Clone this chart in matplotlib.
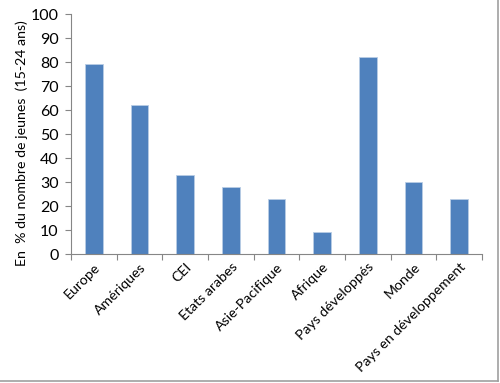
import matplotlib.pyplot as plt
import numpy as np

regions = ['Europe', 'Amériques', 'CEI', 'Etats arabes', 'Asie-Pacifique',
           'Afrique', 'Pays développés', 'Monde', 'Pays en développement']
values = [79, 62, 33, 28, 23, 9.3, 82, 30, 23]

plt.rcParams['font.family'] = ['Lato', 'DejaVu Sans']

fig = plt.figure(figsize=(5, 3.83), dpi=100)
ax = fig.add_axes([71/500, 1 - 254/383, 411/500, 240/383])

x = np.arange(len(regions))
ax.bar(x, values, width=0.38, color='#4F81BD', edgecolor='#B9CDE5', linewidth=0.6)

ax.set_xlim(-0.5, len(regions) - 0.5)
ax.set_ylim(0, 100)
ax.set_yticks(range(0, 101, 10))
ax.set_xticks(np.arange(-0.5, len(regions), 1), minor=False)
ax.set_xticklabels([])
ax.set_xticks(x, minor=True)
ax.set_xticklabels(regions, minor=True, rotation=45, ha='right', rotation_mode='anchor', fontsize=10.2)
ax.tick_params(axis='x', which='minor', length=0, pad=5)
ax.tick_params(axis='x', which='major', length=4, color='#868686')
ax.tick_params(axis='y', length=4, color='#868686', labelsize=11.5, pad=5)

for s in ['top', 'right']:
    ax.spines[s].set_visible(False)
for s in ['left', 'bottom']:
    ax.spines[s].set_color('#868686')

ax.set_ylabel('En  % du nombre de jeunes  (15-24 ans)', fontsize=10.2)
ax.yaxis.set_label_coords(-0.105, 0.46)

# chart border (right and bottom visible)
fig.add_artist(plt.Line2D([0, 498/500], [2/383, 2/383], color='#A0A0A0', lw=1.2))
fig.add_artist(plt.Line2D([498/500, 498/500], [2/383, 1], color='#A0A0A0', lw=1.2))

plt.savefig('out.png', dpi=100)
